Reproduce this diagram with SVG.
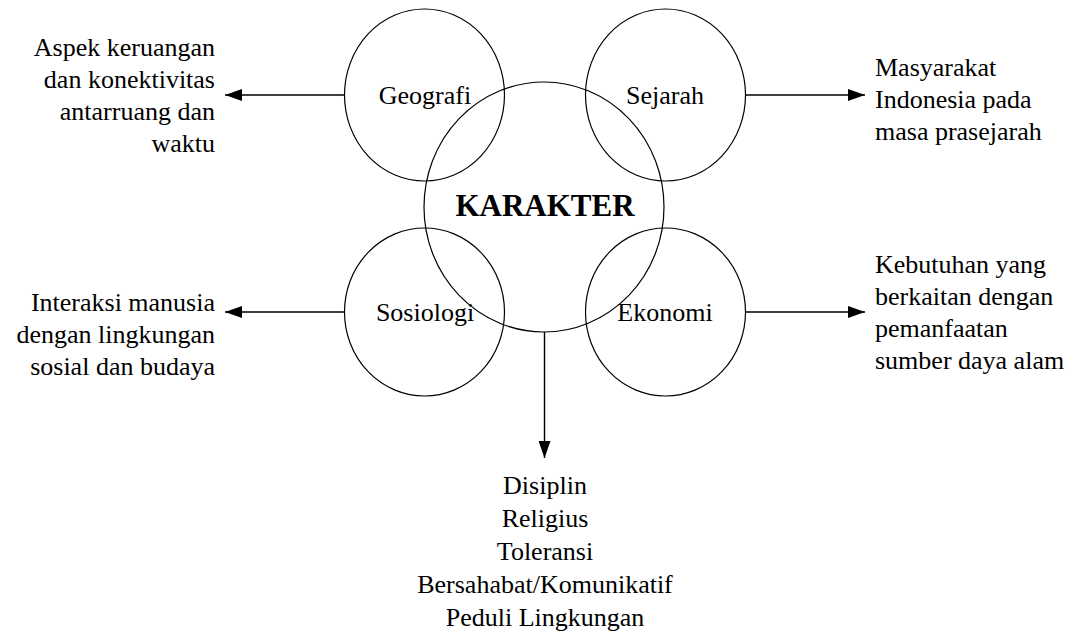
<svg xmlns="http://www.w3.org/2000/svg" width="1075" height="633" viewBox="0 0 1075 633" font-family="Liberation Serif">
<style>
.c{fill:none;stroke:#000;stroke-width:1.2}
.t{font-family:'Liberation Serif';font-size:26px;fill:#000}
.m{text-anchor:middle}
.r{text-anchor:end}
.b{font-weight:bold;font-size:31px}
.l{fill:none;stroke:#000;stroke-width:1.4}
</style>
<defs>
<marker id="ah" markerWidth="17" markerHeight="12" refX="17" refY="6" orient="auto" markerUnits="userSpaceOnUse">
<path d="M0,0 L17,6 L0,12 Z" fill="#000"/>
</marker>
</defs>
<rect width="1075" height="633" fill="#fff"/>
<g id="karakter">
<ellipse class="c" cx="544" cy="207" rx="120" ry="125"/>
<text class="t m b" x="545" y="216" font-family="Liberation Serif">KARAKTER</text>
</g>
<g id="geografi">
<ellipse class="c" cx="424.5" cy="95" rx="80" ry="86"/>
<text class="t m" x="425" y="104" font-family="Liberation Serif">Geografi</text>
</g>
<g id="sejarah">
<ellipse class="c" cx="665.5" cy="95" rx="80" ry="86"/>
<text class="t m" x="665" y="104" font-family="Liberation Serif">Sejarah</text>
</g>
<g id="sosiologi">
<ellipse class="c" cx="424.5" cy="312" rx="80" ry="84"/>
<text class="t m" x="425" y="321" font-family="Liberation Serif">Sosiologi</text>
</g>
<g id="ekonomi">
<ellipse class="c" cx="665.5" cy="312" rx="80" ry="84"/>
<text class="t m" x="665" y="321" font-family="Liberation Serif">Ekonomi</text>
</g>
<g id="connectors">
<line class="l" x1="344.5" y1="95" x2="225" y2="95" marker-end="url(#ah)"/>
<line class="l" x1="745.5" y1="95" x2="865" y2="95" marker-end="url(#ah)"/>
<line class="l" x1="344.5" y1="312" x2="225" y2="312" marker-end="url(#ah)"/>
<line class="l" x1="745.5" y1="312" x2="865" y2="312" marker-end="url(#ah)"/>
<line class="l" x1="544.5" y1="332" x2="544.5" y2="458" marker-end="url(#ah)"/>
</g>
<g id="label-geografi" font-family="Liberation Serif">
<text class="t r" x="215" y="56">Aspek keruangan</text>
<text class="t r" x="215" y="88">dan konektivitas</text>
<text class="t r" x="215" y="120">antarruang dan</text>
<text class="t r" x="215" y="152">waktu</text>
</g>
<g id="label-sejarah" font-family="Liberation Serif">
<text class="t" x="875" y="76">Masyarakat</text>
<text class="t" x="875" y="108">Indonesia pada</text>
<text class="t" x="875" y="140">masa prasejarah</text>
</g>
<g id="label-sosiologi" font-family="Liberation Serif">
<text class="t r" x="215" y="311">Interaksi manusia</text>
<text class="t r" x="215" y="343">dengan lingkungan</text>
<text class="t r" x="215" y="375">sosial dan budaya</text>
</g>
<g id="label-ekonomi" font-family="Liberation Serif">
<text class="t" x="875" y="273">Kebutuhan yang</text>
<text class="t" x="875" y="305">berkaitan dengan</text>
<text class="t" x="875" y="337">pemanfaatan</text>
<text class="t" x="875" y="369">sumber daya alam</text>
</g>
<g id="label-karakter" font-family="Liberation Serif">
<text class="t m" x="545" y="494">Disiplin</text>
<text class="t m" x="545" y="527">Religius</text>
<text class="t m" x="545" y="560">Toleransi</text>
<text class="t m" x="545" y="593">Bersahabat/Komunikatif</text>
<text class="t m" x="545" y="626">Peduli Lingkungan</text>
</g>
</svg>
